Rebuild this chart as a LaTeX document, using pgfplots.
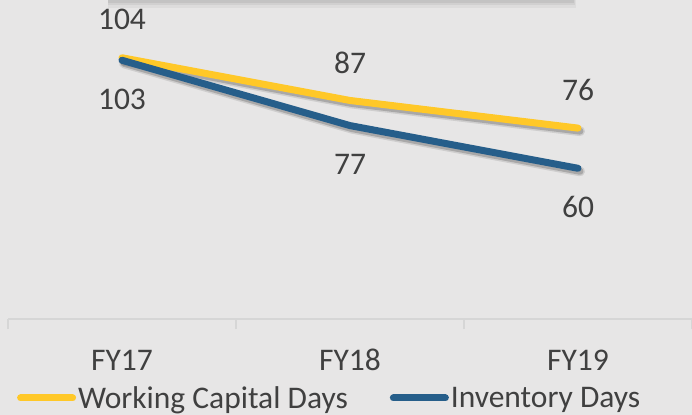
\documentclass[border=0pt]{standalone}
\usepackage{fontspec}
\setmainfont{Carlito}
\usepackage{pgfplots}
\pgfplotsset{compat=1.18}
\definecolor{bg}{RGB}{231,230,230}
\definecolor{wc}{RGB}{255,200,40}
\definecolor{inv}{RGB}{38,94,138}
\definecolor{txt}{RGB}{64,64,64}
\definecolor{axc}{RGB}{214,214,214}
\definecolor{topc}{RGB}{195,195,195}
\newcommand{\bigf}{\fontsize{31.5bp}{37bp}\selectfont}
\begin{document}
\begin{tikzpicture}
\useasboundingbox (0bp,0bp) rectangle (692bp,415bp);
\fill[bg] (0bp,0bp) rectangle (692bp,415bp);
% edge of a box above the visible area
\fill[black,opacity=0.04] (108bp,407bp) rectangle (576bp,415bp);
\fill[black,opacity=0.05] (108bp,410bp) rectangle (575bp,415bp);
\fill[black,opacity=0.06] (108bp,412bp) rectangle (574bp,415bp);
\draw[topc, line width=1.5bp] (108bp,414.5bp) -- (573bp,414.5bp);
\begin{axis}[
  at={(8bp,96bp)}, anchor=south west,
  scale only axis, width=684bp, height=319bp,
  xmin=-0.5, xmax=2.5, ymin=0, ymax=127,
  clip=false,
  axis x line*=bottom, axis y line=none,
  x axis line style={axc, line width=1.5bp, -},
  xtick={0,1,2}, xticklabels={FY17,FY18,FY19},
  major tick length=0pt,
  extra x ticks={-0.5,0.5,1.5,2.5}, extra x tick labels={},
  extra x tick style={major tick length=10bp, tick align=outside, tick style={axc, line width=1.5bp}},
  xticklabel style={anchor=base, yshift=-51bp, font=\bigf, text=txt},
  /pgf/number format/assume math mode=true,
  legend columns=2,
  legend style={at={(0.013,-0.2476)}, anchor=west, draw=none, fill=none,
    font=\bigf, text=txt, inner sep=0pt,
    nodes={inner xsep=2bp, inner ysep=0pt},
    /tikz/every even column/.append style={column sep=40bp}},
  legend image code/.code={\draw[#1, line width=7bp, line cap=round] (0bp,0bp) -- (52bp,0bp);},
]
% shadows
\addplot[forget plot, black, opacity=0.10, line width=10bp, line cap=round, line join=round, xshift=2bp, yshift=-3bp] coordinates {(0,104) (1,87) (2,76)};
\addplot[forget plot, black, opacity=0.18, line width=7bp, line cap=round, line join=round, xshift=2bp, yshift=-3bp] coordinates {(0,104) (1,87) (2,76)};
\addplot[wc, line width=7bp, line cap=round, line join=round] coordinates {(0,104) (1,87) (2,76)};
\addlegendentry{Working Capital Days}
\addplot[forget plot, black, opacity=0.10, line width=10bp, line cap=round, line join=round, xshift=2bp, yshift=-3bp] coordinates {(0,103) (1,77) (2,60)};
\addplot[forget plot, black, opacity=0.18, line width=7bp, line cap=round, line join=round, xshift=2bp, yshift=-3bp] coordinates {(0,103) (1,77) (2,60)};
\addplot[inv, line width=7bp, line cap=round, line join=round] coordinates {(0,103) (1,77) (2,60)};
\addlegendentry{Inventory Days}
% data labels
\addplot[forget plot, draw=none, nodes near coords,
  every node near coord/.append style={anchor=center, yshift=38bp, text=txt, font=\bigf}]
  coordinates {(0,104) (1,87) (2,76)};
\addplot[forget plot, draw=none, nodes near coords,
  every node near coord/.append style={anchor=center, yshift=-39bp, text=txt, font=\bigf}]
  coordinates {(0,103) (1,77) (2,60)};
\end{axis}
\end{tikzpicture}
\end{document}
